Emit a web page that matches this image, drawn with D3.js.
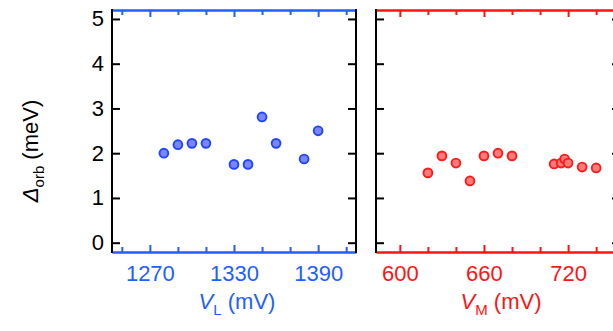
<!DOCTYPE html>
<html>
<head>
<meta charset="utf-8">
<script src="https://cdn.jsdelivr.net/npm/d3@7"></script>
<style>
  body { margin: 0; background: #fff; }
  text { font-family: "Liberation Sans", Arial, Helvetica, sans-serif; }
</style>
</head>
<body>
<svg id="chart" width="613" height="331"></svg>
<script>
// left panel: V_L sweep
const vL = [1280, 1290, 1300, 1310, 1330, 1340, 1350, 1360, 1380, 1390];
const orbL = [2.0, 2.19, 2.22, 2.22, 1.75, 1.75, 2.81, 2.22, 1.87, 2.5];

// right panel: V_M sweep
const vM = [620, 630, 640, 650, 660, 670, 680, 710, 715, 717.5, 720, 730, 740];
const orbM = [1.56, 1.94, 1.78, 1.38, 1.94, 2.0, 1.94, 1.76, 1.78, 1.87, 1.78, 1.69, 1.67];

const yTicks = [0, 1, 2, 3, 4, 5];
const xMajorL = [1270, 1330, 1390];
const xMinorL = [1250, 1290, 1310, 1350, 1370, 1410];
const xMajorM = [600, 660, 720];
const xMinorM = [620, 640, 680, 700, 740];

const svg = d3.select("#chart");
const plotTop = 10, plotBottom = 252;
const y = d3.scaleLinear().domain([-0.208, 5.2]).range([plotBottom, plotTop]);
const fs = "22px";

function panel(cfg) {
    const x = d3.scaleLinear().domain(cfg.domain).range([cfg.left, cfg.right]);
    const g = svg.append("g");

    // minor ticks bottom / top (no labels)
    g.append("g")
        .attr("transform", "translate(0," + plotBottom + ")")
        .call(d3.axisBottom(x).tickValues(cfg.minor).tickSizeInner(-5).tickSizeOuter(0).tickFormat(""));
    g.append("g")
        .attr("transform", "translate(0," + plotTop + ")")
        .call(d3.axisTop(x).tickValues(cfg.minor).tickSizeInner(-5).tickSizeOuter(0).tickFormat(""));

    // major ticks with labels
    const xb = g.append("g")
        .attr("transform", "translate(0," + plotBottom + ")")
        .call(d3.axisBottom(x).tickValues(cfg.major).tickSizeInner(-7).tickSizeOuter(0)
            .tickPadding(13).tickFormat(d3.format("d")));
    g.append("g")
        .attr("transform", "translate(0," + plotTop + ")")
        .call(d3.axisTop(x).tickValues(cfg.major).tickSizeInner(-7).tickSizeOuter(0).tickFormat(""));

    g.selectAll("path.domain, line").attr("stroke", cfg.color).attr("stroke-width", 2);
    g.selectAll("path.domain").attr("stroke-width", 2.2);
    xb.selectAll("text").attr("fill", cfg.color).style("font-size", fs);

    // y axes: left and right, black, ticks inward
    const yl = g.append("g")
        .attr("transform", "translate(" + cfg.left + ",0)")
        .call(d3.axisLeft(y).tickValues(yTicks).tickSizeInner(-8).tickSizeOuter(0).tickPadding(8)
            .tickFormat(cfg.yLabels ? d3.format("d") : ""));
    const yr = g.append("g")
        .attr("transform", "translate(" + cfg.right + ",0)")
        .call(d3.axisRight(y).tickValues(yTicks).tickSizeInner(-8).tickSizeOuter(0).tickFormat(""));
    [yl, yr].forEach(a => {
        a.selectAll("path.domain, line").attr("stroke", "#000").attr("stroke-width", 2);
        a.select("path.domain").attr("d", "M0," + (plotTop - 1) + "V" + (plotBottom + 1));
    });
    yl.selectAll("text").attr("fill", "#000").style("font-size", fs);

    // data points
    g.append("g").selectAll("circle")
        .data(cfg.xs.map((v, i) => [v, cfg.ys[i]]))
        .join("circle")
        .attr("cx", d => x(d[0]))
        .attr("cy", d => y(d[1]))
        .attr("r", 4.4)
        .attr("fill", cfg.fill)
        .attr("stroke", cfg.stroke)
        .attr("stroke-width", 1.9);

    // x title
    const t = g.append("text")
        .attr("x", (cfg.left + cfg.right) / 2 + 3)
        .attr("y", 309)
        .attr("text-anchor", "middle")
        .attr("fill", cfg.color)
        .style("font-size", fs);
    t.append("tspan").style("font-style", "italic").text("V");
    t.append("tspan").attr("dy", 6).style("font-size", "15px").text(cfg.sub);
    t.append("tspan").attr("dy", -6).text(" (mV)");
}

panel({
    domain: [1243, 1417], left: 112, right: 356,
    major: xMajorL, minor: xMinorL, xs: vL, ys: orbL,
    color: "#2160ff", fill: "#7a85ff", stroke: "#1f45ff",
    sub: "L", yLabels: true
});

panel({
    domain: [583, 757], left: 376, right: 620,
    major: xMajorM, minor: xMinorM, xs: vM, ys: orbM,
    color: "#ff1414", fill: "#ff7b7b", stroke: "#ff1a1a",
    sub: "M", yLabels: false
});

// y title
const yt = svg.append("text")
    .attr("transform", "translate(38,151) rotate(-90)")
    .attr("text-anchor", "middle")
    .attr("fill", "#000")
    .style("font-size", fs);
yt.append("tspan").style("font-style", "italic").text("Δ");
yt.append("tspan").attr("dy", 6).style("font-size", "15px").text("orb");
yt.append("tspan").attr("dy", -6).text(" (meV)");
</script>
</body>
</html>
